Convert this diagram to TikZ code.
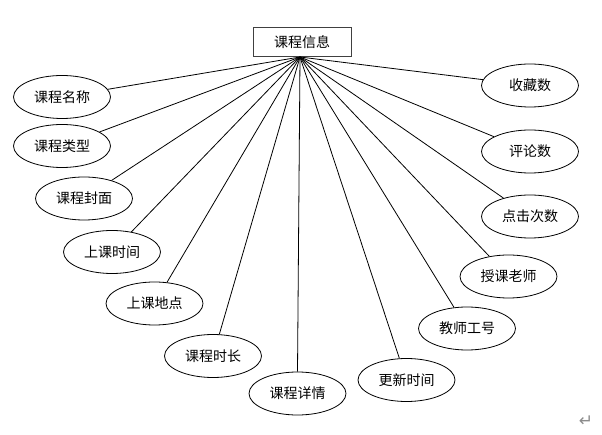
\documentclass[tikz,border=0pt]{standalone}
\usepackage{fontspec}
\newfontfamily\cjk{Noto Sans CJK SC}
\newfontfamily\dejavu{DejaVu Sans}
\usetikzlibrary{shapes.geometric}
\tikzset{
  attr/.style={ellipse,draw=black,line width=0.8pt,minimum width=97pt,minimum height=43pt,inner sep=0pt,font=\cjk\fontsize{14}{16}\selectfont},
  ent/.style={rectangle,draw=black!75,line width=1pt,minimum width=98pt,minimum height=29pt,inner sep=0pt,font=\cjk\fontsize{14}{16}\selectfont},
  link/.style={draw=black,line width=0.8pt}
}
\begin{document}
\begin{tikzpicture}[x=1pt,y=-1pt]
\useasboundingbox (0,0) rectangle (602,435);
\node[ent] (top) at (302,42.5) {课程信息};
\coordinate (hub) at (300,57);
\node[attr] (a1) at (62,97) {课程名称};
\node[attr] (a2) at (62,146) {课程类型};
\node[attr] (a3) at (84,198.5) {课程封面};
\node[attr] (a4) at (112,252) {上课时间};
\node[attr] (a5) at (154.5,303.5) {上课地点};
\node[attr] (a6) at (213,356) {课程时长};
\node[attr] (a7) at (297.5,393.5) {课程详情};
\node[attr] (b1) at (530,85.5) {收藏数};
\node[attr] (b2) at (530,151.5) {评论数};
\node[attr] (b3) at (530,216.5) {点击次数};
\node[attr] (b4) at (508.5,276.5) {授课老师};
\node[attr] (b5) at (467,328.5) {教师工号};
\node[attr] (b6) at (406.5,380) {更新时间};
\foreach \n in {a1,a2,a3,a4,a5,a6,b1,b2,b3,b4,b5,b6}{\draw[link] (hub) -- (\n);}
\draw[link] (hub) -- (a7.north);
\node[font=\dejavu\fontsize{17}{19}\selectfont,text=black!45,inner sep=0pt] (mark) at (586,421) {↵};
\end{tikzpicture}
\end{document}
